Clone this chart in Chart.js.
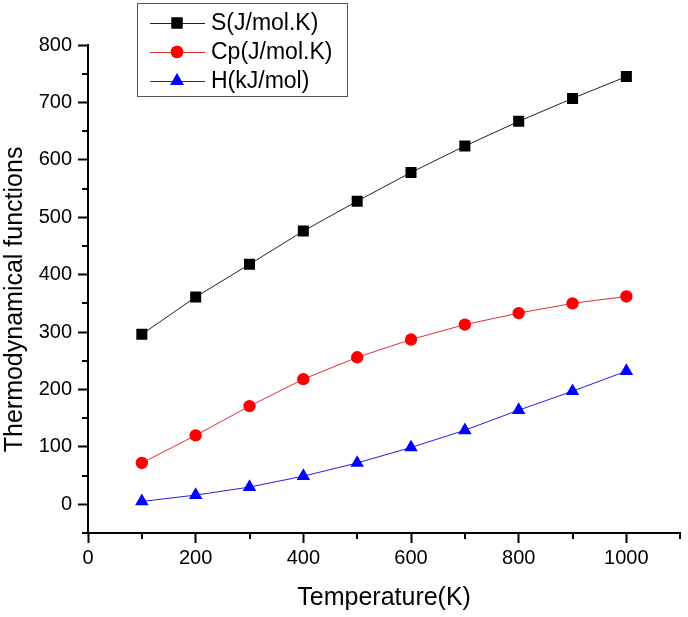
<!DOCTYPE html>
<html><head><meta charset="utf-8">
<script src="https://cdn.jsdelivr.net/npm/chart.js@4"></script>
<style>html,body{margin:0;padding:0;background:#fff}#wrap{width:688px;height:617px}</style>
</head><body><div id="wrap"><canvas id="c" width="688" height="617"></canvas></div>
<script>
const temperatures = [100, 200, 300, 400, 500, 600, 700, 800, 900, 1000];
const entropyS = [296, 361, 418, 476, 528, 578, 624, 667, 707, 745];
const heatCapacityCp = [72, 120, 171, 218, 256, 287, 313, 333, 350, 362];
const enthalpyH = [5, 16, 30, 49, 72, 99, 129, 164, 197, 232];
const seriesLabels = ['S(J/mol.K)', 'Cp(J/mol.K)', 'H(kJ/mol)'];
const xTickValues = [0, 100, 200, 300, 400, 500, 600, 700, 800, 900, 1000, 1100];
const yTickValues = [-50, 0, 50, 100, 150, 200, 250, 300, 350, 400, 450, 500, 550, 600, 650, 700, 750, 800];

const FONT = '"Liberation Sans", Arial, sans-serif';

const mkData = ys => temperatures.map((t, i) => ({x: t, y: ys[i]}));

const minorTicks = {
  id: 'minorTicks',
  afterDraw(chart) {
    const ctx = chart.ctx;
    const xs = chart.scales.x, ys = chart.scales.y;
    const ca = chart.chartArea;
    ctx.save();
    ctx.strokeStyle = '#000';
    ctx.lineWidth = 2;
    ctx.beginPath();
    xTickValues.forEach(v => {
      if (v % 200 !== 0) {
        const px = Math.round(xs.getPixelForValue(v));
        ctx.moveTo(px, ca.bottom); ctx.lineTo(px, ca.bottom + 6);
      }
    });
    yTickValues.forEach(v => {
      if (v % 100 !== 0) {
        const py = Math.round(ys.getPixelForValue(v));
        ctx.moveTo(ca.left, py); ctx.lineTo(ca.left - 6, py);
      }
    });
    ctx.stroke();
    ctx.restore();
  }
};

const boxLegend = {
  id: 'boxLegend',
  afterDraw(chart) {
    const ctx = chart.ctx;
    const bx = 137, by = 3, bw = 210, bh = 93;
    ctx.save();
    ctx.fillStyle = '#fff';
    ctx.fillRect(bx, by, bw, bh);
    ctx.strokeStyle = '#555';
    ctx.lineWidth = 1;
    ctx.strokeRect(bx + 0.5, by + 0.5, bw, bh);
    const rows = [23, 52, 81];
    chart.data.datasets.forEach((ds, i) => {
      const y = rows[i];
      ctx.strokeStyle = ds.borderColor;
      ctx.lineWidth = 1;
      ctx.beginPath();
      ctx.moveTo(150, y + 0.5); ctx.lineTo(205, y + 0.5);
      ctx.stroke();
      ctx.fillStyle = ds.pointBackgroundColor;
      Chart.helpers.drawPoint(ctx, {pointStyle: ds.pointStyle, radius: ds.pointRadius, borderWidth: 0}, 177, y);
      ctx.fill();
      ctx.fillStyle = '#000';
      ctx.font = '23px ' + FONT;
      ctx.textBaseline = 'middle';
      ctx.textAlign = 'left';
      ctx.fillText(ds.label, 211, y + 1);
    });
    ctx.restore();
  }
};

new Chart(document.getElementById('c'), {
  type: 'line',
  data: {
    datasets: [
      {label: seriesLabels[0], data: mkData(entropyS), borderColor: '#222', borderWidth: 1,
       pointStyle: 'rect', pointRadius: 7.8, pointBackgroundColor: '#000', pointBorderWidth: 0, pointHoverRadius: 7.8},
      {label: seriesLabels[1], data: mkData(heatCapacityCp), borderColor: '#e03030', borderWidth: 1,
       pointStyle: 'circle', pointRadius: 6.2, pointBackgroundColor: '#ff0000', pointBorderWidth: 0, pointHoverRadius: 6.2},
      {label: seriesLabels[2], data: mkData(enthalpyH), borderColor: '#2020e0', borderWidth: 1,
       pointStyle: 'triangle', pointRadius: 7.8, pointBackgroundColor: '#0000ff', pointBorderWidth: 0, pointHoverRadius: 7.8}
    ]
  },
  options: {
    responsive: false,
    animation: false,
    layout: {padding: {top: 45, right: 6, left: 0, bottom: 0}},
    plugins: {legend: {display: false}, tooltip: {enabled: false}},
    scales: {
      x: {
        type: 'linear', min: 0, max: 1100,
        afterBuildTicks: s => { s.ticks = [0, 200, 400, 600, 800, 1000].map(v => ({value: v})); },
        afterFit: s => { s.height = 84; },
        border: {color: '#000', width: 2},
        grid: {drawOnChartArea: false, tickLength: 10, tickColor: '#000', tickWidth: 2},
        ticks: {color: '#000', font: {size: 20, family: FONT}, padding: 3, maxRotation: 0, callback: v => String(v)},
        title: {display: true, text: 'Temperature(K)', color: '#000', font: {size: 25, family: FONT}, padding: {top: 1}}
      },
      y: {
        type: 'linear', min: -50, max: 800,
        afterBuildTicks: s => { s.ticks = [0, 100, 200, 300, 400, 500, 600, 700, 800].map(v => ({value: v})); },
        afterFit: s => { s.width = 88; },
        border: {color: '#000', width: 2},
        grid: {drawOnChartArea: false, tickLength: 10, tickColor: '#000', tickWidth: 2},
        ticks: {color: '#000', font: {size: 20, family: FONT}, padding: 6, callback: v => String(v)},
        title: {display: true, text: 'Thermodynamical functions   ', color: '#000', font: {size: 25, family: FONT}, padding: {bottom: 0, top: 0}}
      }
    }
  },
  plugins: [minorTicks, boxLegend]
});
</script></body></html>
